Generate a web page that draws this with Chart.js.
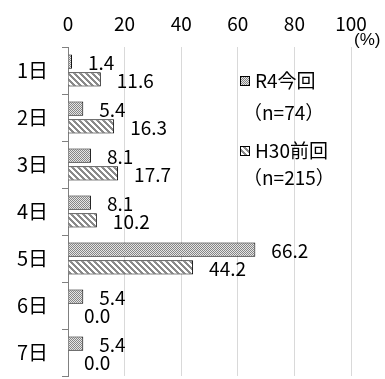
<!DOCTYPE html>
<html>
<head>
<meta charset="utf-8">
<script src="https://cdn.jsdelivr.net/npm/chart.js@4"></script>
<style>
html, body { margin: 0; padding: 0; background: #fff; }
</style>
</head>
<body>
<canvas id="chart" width="385" height="379"></canvas>
<script>
// Data
const categories = ['1日', '2日', '3日', '4日', '5日', '6日', '7日'];
const seriesNames = ['R4今回', 'H30前回'];
const seriesNotes = ['（n=74）', '（n=215）'];
const r4Values = [1.4, 5.4, 8.1, 8.1, 66.2, 5.4, 5.4];
const h30Values = [11.6, 16.3, 17.7, 10.2, 44.2, 0.0, 0.0];
const xTicks = [0, 20, 40, 60, 80, 100];

const FONT = '"Noto Sans CJK JP", "Liberation Sans", sans-serif';

// Fill patterns
function makePattern(size, draw) {
    const c = document.createElement('canvas');
    c.width = size;
    c.height = size;
    const g = c.getContext('2d');
    g.fillStyle = '#fff';
    g.fillRect(0, 0, size, size);
    for (let y = 0; y < size; y++) {
        for (let x = 0; x < size; x++) {
            const col = draw(x, y);
            if (col) {
                g.fillStyle = col;
                g.fillRect(x, y, 1, 1);
            }
        }
    }
    return g.createPattern(c, 'repeat');
}

const checkPattern = makePattern(4, (x, y) => ((x + y) % 2 === 0 ? '#858585' : '#e6e6e6'));
const stripePattern = makePattern(6, (x, y) => (((x - y + 6) % 6) < 3 ? '#8a8a8a' : null));
const patterns = [checkPattern, stripePattern];

// Value labels next to each bar
const valueLabels = {
    id: 'valueLabels',
    afterDatasetsDraw(chart) {
        const ctx = chart.ctx;
        ctx.save();
        ctx.font = '19px ' + FONT;
        ctx.fillStyle = '#000';
        ctx.textAlign = 'left';
        ctx.textBaseline = 'middle';
        chart.data.datasets.forEach((ds, i) => {
            chart.getDatasetMeta(i).data.forEach((bar, j) => {
                ctx.fillText(ds.data[j].toFixed(1), bar.x + 16, bar.y + 1);
            });
        });
        ctx.restore();
    }
};

// Legend drawn inside the plot
const innerLegend = {
    id: 'innerLegend',
    afterDraw(chart) {
        const ctx = chart.ctx;
        ctx.save();
        ctx.textAlign = 'left';
        ctx.textBaseline = 'middle';
        const rows = [81, 151];
        rows.forEach((y, i) => {
            ctx.fillStyle = patterns[i];
            ctx.fillRect(240, y - 5, 9, 9);
            ctx.strokeStyle = '#000';
            ctx.lineWidth = 1;
            ctx.strokeRect(240.5, y - 4.5, 9, 9);
            ctx.fillStyle = '#000';
            ctx.font = '19px ' + FONT;
            ctx.fillText(seriesNames[i], 255, y);
            ctx.fillText(seriesNotes[i], 243, y + (i === 0 ? 32 : 27));
        });
        // unit label
        ctx.font = '17px "Liberation Sans", sans-serif';
        ctx.fillText('(%)', 354, 40);
        ctx.restore();
    }
};

const ctx = document.getElementById('chart').getContext('2d');
const chart = new Chart(ctx, {
    type: 'bar',
    data: {
        labels: categories,
        datasets: [{
            label: seriesNames[0],
            data: r4Values,
            backgroundColor: checkPattern,
            borderColor: '#000',
            borderWidth: 1,
            categoryPercentage: 0.76,
            barPercentage: 0.8
        }, {
            label: seriesNames[1],
            data: h30Values,
            backgroundColor: stripePattern,
            borderColor: '#000',
            borderWidth: 1,
            categoryPercentage: 0.76,
            barPercentage: 0.8
        }]
    },
    options: {
        indexAxis: 'y',
        responsive: false,
        animation: false,
        layout: { padding: { left: 0, right: 34, top: 0, bottom: 3 } },
        plugins: {
            legend: { display: false },
            tooltip: { enabled: false }
        },
        scales: {
            x: {
                position: 'top',
                min: 0,
                max: 100,
                afterBuildTicks: scale => { scale.ticks = xTicks.map(v => ({ value: v })); },
                afterFit: scale => {
                    scale.height = 47;
                    scale.paddingLeft = 0;
                    scale.paddingRight = 0;
                },
                ticks: {
                    font: { size: 19, family: FONT },
                    color: '#000',
                    padding: 12
                },
                grid: {
                    color: c => (c.tick && c.tick.value === 0 ? 'rgba(0,0,0,0)' : '#d9d9d9'),
                    drawTicks: false
                },
                border: { display: false }
            },
            y: {
                afterFit: scale => {
                    scale.width = 68;
                    scale.paddingTop = 0;
                    scale.paddingBottom = 0;
                },
                ticks: {
                    font: { size: 20, family: FONT },
                    color: '#000',
                    padding: 14
                },
                grid: {
                    offset: true,
                    drawOnChartArea: false,
                    tickLength: 6,
                    color: '#808080'
                },
                border: { color: '#808080' }
            }
        }
    },
    plugins: [valueLabels, innerLegend]
});
</script>
</body>
</html>
